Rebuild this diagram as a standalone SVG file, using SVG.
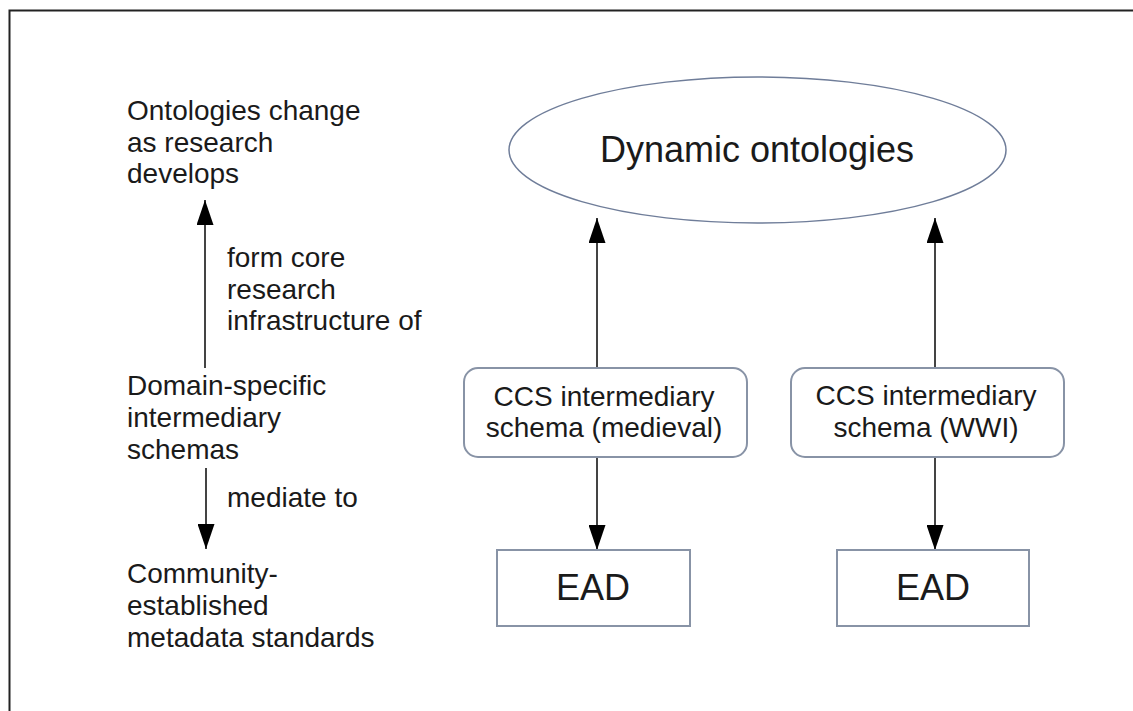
<svg xmlns="http://www.w3.org/2000/svg" width="1133" height="711" viewBox="0 0 1133 711">
<style>
  text { font-family: "Liberation Sans", Arial, sans-serif; fill: #1a1a1a; }
  .lbl { font-size: 28px; }
  .box { fill: #ffffff; stroke: #8893a6; stroke-width: 2; }
  .conn { stroke: #444444; stroke-width: 2; fill: none; marker-end: url(#arrow); }
</style>
<defs>
  <marker id="arrow" markerUnits="userSpaceOnUse" markerWidth="25" markerHeight="17" refX="25" refY="8.5" orient="auto" viewBox="0 0 25 17">
    <path d="M0,0 L25,8.5 L0,17 z" fill="#000000"/>
  </marker>
</defs>
<rect x="0" y="0" width="1133" height="711" fill="#ffffff"/>
<path d="M1133,10.5 H9.5 V711" fill="none" stroke="#222222" stroke-width="2"/>

<g id="connectors">
  <line class="conn" x1="205" y1="368" x2="205" y2="200"/>
  <line class="conn" x1="206" y1="468" x2="206" y2="549"/>
  <line class="conn" x1="597" y1="368" x2="597" y2="218"/>
  <line class="conn" x1="935" y1="368" x2="935" y2="218"/>
  <line class="conn" x1="597" y1="457" x2="597" y2="550"/>
  <line class="conn" x1="935" y1="457" x2="935" y2="550"/>
</g>

<g id="label-ontologies-change">
  <text class="lbl" x="127" y="120">Ontologies change</text>
  <text class="lbl" x="127" y="152">as research</text>
  <text class="lbl" x="127" y="183">develops</text>
</g>
<g id="label-form-core">
  <text class="lbl" x="227" y="267">form core</text>
  <text class="lbl" x="227" y="299">research</text>
  <text class="lbl" x="227" y="330">infrastructure of</text>
</g>
<g id="label-domain-specific">
  <text class="lbl" x="127" y="395">Domain-specific</text>
  <text class="lbl" x="127" y="427">intermediary</text>
  <text class="lbl" x="127" y="459">schemas</text>
</g>
<g id="label-mediate-to">
  <text class="lbl" x="227" y="507">mediate to</text>
</g>
<g id="label-community">
  <text class="lbl" x="127" y="583">Community-</text>
  <text class="lbl" x="127" y="615">established</text>
  <text class="lbl" x="127" y="647">metadata standards</text>
</g>

<g id="node-dynamic-ontologies">
  <ellipse cx="757.5" cy="150" rx="248.5" ry="73" fill="#ffffff" stroke="#6f7d99" stroke-width="1.5"/>
  <text x="757" y="162" font-size="36" text-anchor="middle">Dynamic ontologies</text>
</g>

<g id="node-ccs-medieval">
  <rect class="box" x="464" y="368" width="283" height="89" rx="14" ry="14"/>
  <text class="lbl" x="604" y="406" text-anchor="middle">CCS intermediary</text>
  <text class="lbl" x="604" y="437" text-anchor="middle">schema (medieval)</text>
</g>

<g id="node-ccs-wwi">
  <rect class="box" x="791" y="368" width="273" height="89" rx="14" ry="14"/>
  <text class="lbl" x="926" y="405" text-anchor="middle">CCS intermediary</text>
  <text class="lbl" x="926" y="437" text-anchor="middle">schema (WWI)</text>
</g>

<g id="node-ead-medieval">
  <rect class="box" x="497" y="550" width="193" height="76"/>
  <text x="593" y="600" font-size="36" text-anchor="middle">EAD</text>
</g>

<g id="node-ead-wwi">
  <rect class="box" x="837" y="550" width="192" height="76"/>
  <text x="933" y="600" font-size="36" text-anchor="middle">EAD</text>
</g>
</svg>
